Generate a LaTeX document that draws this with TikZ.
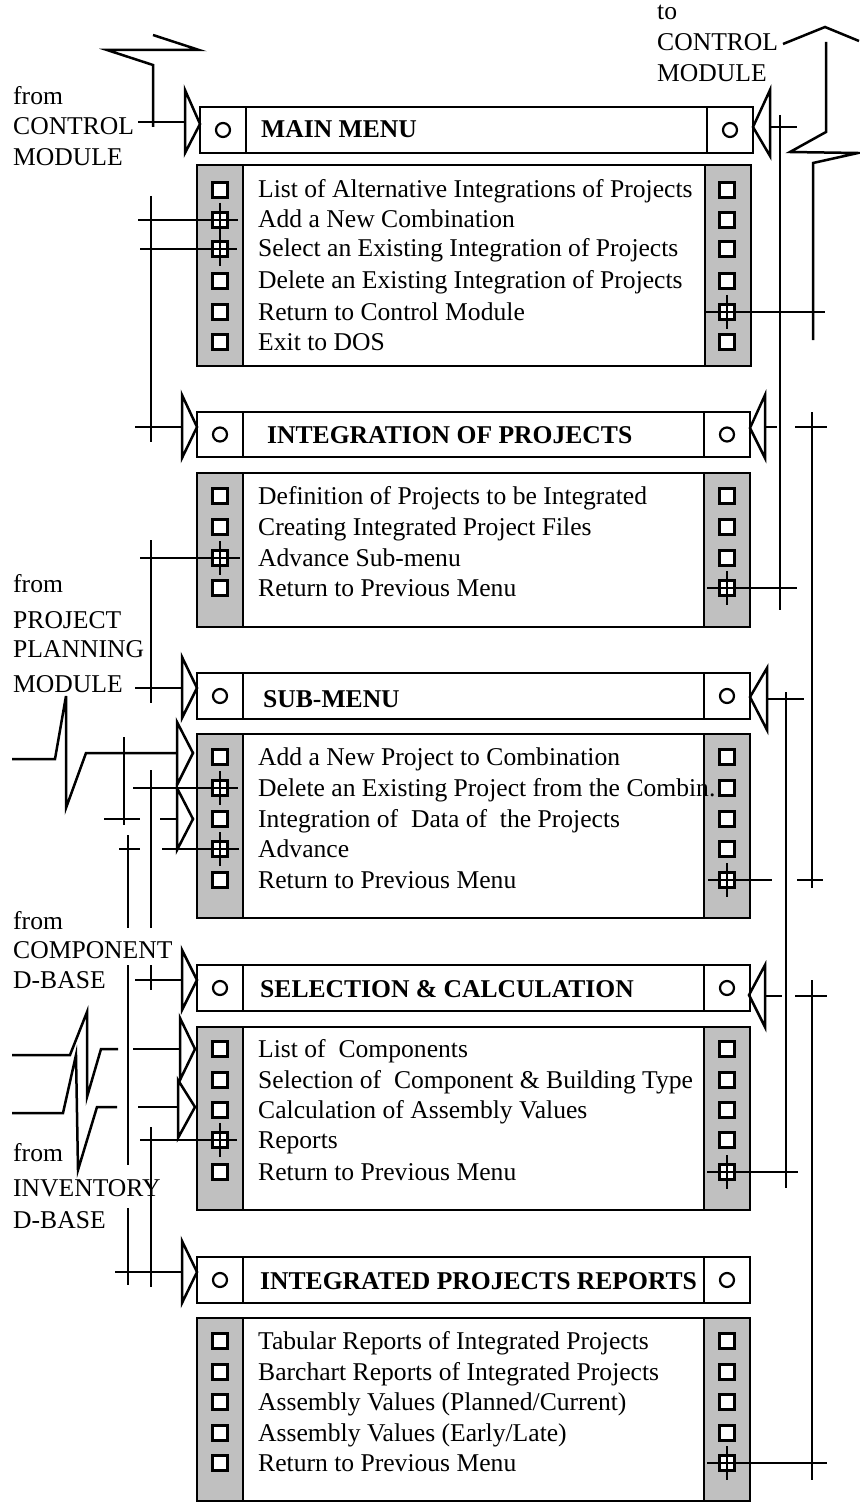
\documentclass[tikz,border=0pt]{standalone}
\usepackage{fontspec}
\setmainfont{Liberation Serif}
\definecolor{colgrey}{RGB}{192,192,192}
\tikzset{
  wire/.style={line width=2.5pt},
  frame/.style={draw, line width=2.6pt},
  sqbox/.style={draw, line width=2.2pt, minimum size=15pt, inner sep=0pt, fill=white},
  ring/.style={draw, circle, line width=2.2pt, minimum size=14pt, inner sep=0pt},
  item/.style={anchor=base west, inner sep=0pt, font=\fontsize{25.6}{30}\selectfont},
  ttl/.style={anchor=base west, inner sep=0pt, font=\fontsize{25.6}{30}\selectfont\bfseries},
  tri/.style={line width=2.5pt, line join=miter}
}
% header bar: name, x1, x2, y1, y2
\newcommand{\menuhdr}[5]{%
  \draw[frame, fill=white] (#2,#4) rectangle (#3,#5);
  \draw[frame] (#2+46,#4) -- (#2+46,#5);
  \draw[frame] (#3-46,#4) -- (#3-46,#5);
  \node[ring] (#1L) at (#2+23,{(#4+#5)/2}) {};
  \node[ring] (#1R) at (#3-23,{(#4+#5)/2}) {};
}
% body box: x1, x2, y1, y2
\newcommand{\menubody}[4]{%
  \fill[colgrey] (#1,#3) rectangle (#1+46,#4);
  \fill[colgrey] (#2-46,#3) rectangle (#2,#4);
  \draw[frame] (#1,#3) rectangle (#2,#4);
  \draw[frame] (#1+46,#3) -- (#1+46,#4);
  \draw[frame] (#2-46,#3) -- (#2-46,#4);
}
% item row: name, y, text
\newcommand{\itm}[3]{%
  \node[sqbox] (#1L) at (220,#2) {};
  \node[sqbox] (#1R) at (727,#2) {};
  \node[item] (#1T) at (258,#2+8) {#3};
}
\newcommand{\tickL}[1]{\draw[wire] (220,#1-17) -- (220,#1+17);}
\newcommand{\tickR}[1]{\draw[wire] (727,#1-17) -- (727,#1+17);}
% open triangle: back x, top y, bottom y, tip x, tip y
\newcommand{\otri}[5]{\draw[tri] (#1,#2) -- (#4,#5) -- (#1,#3) -- cycle;}
\begin{document}
\begin{tikzpicture}[x=1pt, y=-1pt]
\useasboundingbox (0,0) rectangle (859,1503);

% ---------------- boxes ----------------
\menuhdr{mh}{200}{753}{107}{153}
\node[ttl] (mhT) at (261,138) {MAIN MENU};
\menubody{197}{751}{165}{366}

\menuhdr{ih}{197}{750}{412}{457}
\node[ttl] (ihT) at (267,443) {INTEGRATION OF PROJECTS};
\menubody{197}{750}{473}{627}

\menuhdr{sh}{197}{750}{673}{719}
\node[ttl] (shT) at (263,707) {SUB-MENU};
\menubody{197}{750}{734}{918}

\menuhdr{eh}{197}{750}{965}{1011}
\node[ttl] (ehT) at (260,997) {SELECTION \& CALCULATION};
\menubody{197}{750}{1027}{1210}

\menuhdr{rh}{197}{750}{1257}{1303}
\node[ttl] (rhT) at (260,1289) {INTEGRATED PROJECTS REPORTS};
\menubody{197}{750}{1318}{1501}

% ---------------- items ----------------
\itm{m1}{190}{List of Alternative Integrations of Projects}
\itm{m2}{220}{Add a New Combination}
\itm{m3}{249}{Select an Existing Integration of Projects}
\itm{m4}{281}{Delete an Existing Integration of Projects}
\itm{m5}{312}{Return to Control Module}
\itm{m6}{342}{Exit to DOS}

\itm{i1}{496}{Definition of Projects to be Integrated}
\itm{i2}{527}{Creating Integrated Project Files}
\itm{i3}{558}{Advance Sub-menu}
\itm{i4}{588}{Return to Previous Menu}

\itm{s1}{757}{Add a New Project to Combination}
\itm{s2}{788}{Delete an Existing Project from the Combin.}
\itm{s3}{819}{Integration of\ \ Data of\ \ the Projects}
\itm{s4}{849}{Advance}
\itm{s5}{880}{Return to Previous Menu}

\itm{e1}{1049}{List of\ \ Components}
\itm{e2}{1080}{Selection of\ \ Component \& Building Type}
\itm{e3}{1110}{Calculation of Assembly Values}
\itm{e4}{1140}{Reports}
\itm{e5}{1172}{Return to Previous Menu}

\itm{r1}{1341}{Tabular Reports of Integrated Projects}
\itm{r2}{1372}{Barchart Reports of Integrated Projects}
\itm{r3}{1402}{Assembly Values (Planned/Current)}
\itm{r4}{1433}{Assembly Values (Early/Late)}
\itm{r5}{1463}{Return to Previous Menu}

% ---------------- labels ----------------
\node[item] (lc1) at (13,105) {from};
\node[item] (lc2) at (13,135) {CONTROL};
\node[item] (lc3) at (13,166) {MODULE};

\node[item] (rc1) at (657,20) {to};
\node[item] (rc2) at (657,51) {CONTROL};
\node[item] (rc3) at (657,82) {MODULE};

\node[item] (lp1) at (13,592) {from};
\node[item] (lp2) at (13,628) {PROJECT};
\node[item] (lp3) at (13,657) {PLANNING};
\node[item] (lp4) at (13,692) {MODULE};

\node[item] (lk1) at (13,929) {from};
\node[item] (lk2) at (13,958) {COMPONENT};
\node[item] (lk3) at (13,988) {D-BASE};

\node[item] (lv1) at (13,1161) {from};
\node[item] (lv2) at (13,1196) {INVENTORY};
\node[item] (lv3) at (13,1228) {D-BASE};

% ---------------- arrowheads (open triangles) ----------------
\otri{185}{90}{153}{200}{124}
\otri{770}{90}{156}{753}{127}
\otri{182}{395}{458}{197}{427}
\otri{765}{395}{458}{750}{428}
\otri{182}{657}{718}{197}{688}
\otri{767}{668}{730}{750}{697}
\otri{177}{722}{785}{193}{753}
\otri{177}{788}{850}{193}{819}
\otri{182}{950}{1010}{197}{980}
\otri{765}{965}{1027}{749}{995}
\otri{180}{1018}{1080}{195}{1049}
\otri{178}{1080}{1138}{195}{1107}
\otri{182}{1241}{1303}{197}{1272}

% ---------------- left wiring ----------------
% from control module
\draw[wire] (138,122) -- (185,122);
\draw[wire, line join=miter] (153,127) -- (153,65) -- (107,50) -- (199,50) -- (153,35);
% main menu -> integration
\draw[wire] (151,196) -- (151,442);
\draw[wire] (138,220) -- (238,220);
\draw[wire] (140,249) -- (237,249);
\draw[wire] (135,427) -- (182,427);
\tickL{220} \tickL{249}
% integration -> sub-menu
\draw[wire] (151,540) -- (151,703);
\draw[wire] (140,558) -- (240,558);
\draw[wire] (135,688) -- (182,688);
\tickL{558}
% sub-menu body inputs
\draw[wire, line join=miter] (12,759) -- (55,759) -- (66,696) -- (66,808) -- (86,753) -- (177,753);
\draw[wire] (124,737) -- (124,825);
\draw[wire] (104,819) -- (140,819);
\draw[wire] (160,819) -- (177,819);
\draw[wire] (151,770) -- (151,928);
\draw[wire] (133,788) -- (238,788);
\draw[wire] (128,835) -- (128,928);
\draw[wire] (119,849) -- (140,849);
\draw[wire] (162,849) -- (239,849);
\tickL{788} \tickL{849}
% selection header
\draw[wire] (151,965) -- (151,990);
\draw[wire] (135,980) -- (182,980);
\draw[wire] (128,965) -- (128,1165);
% selection body inputs
\draw[wire, line join=miter] (12,1055) -- (70,1055) -- (87,1012) -- (87,1097) -- (101,1049) -- (118,1049);
\draw[wire] (133,1049) -- (180,1049);
\draw[wire, line join=miter] (12,1113) -- (63,1113) -- (76,1055) -- (78,1170) -- (97,1107) -- (117,1107);
\draw[wire] (138,1107) -- (178,1107);
\draw[wire] (151,1127) -- (151,1287);
\draw[wire] (140,1140) -- (237,1140);
\tickL{1140}
% reports header
\draw[wire] (128,1208) -- (128,1285);
\draw[wire] (115,1272) -- (182,1272);

% ---------------- right wiring ----------------
% to control module
\draw[wire, line join=miter] (813,340) -- (813,163) -- (858,153) -- (790,152) -- (826,132) -- (826,42);
\draw[wire, line join=miter] (783,44) -- (825,27) -- (859,41);
\draw[wire] (704,312) -- (825,312);
\tickR{312}
% main menu header right
\draw[wire] (770,127) -- (797,127);
\draw[wire] (780,115) -- (780,610);
\draw[wire] (707,588) -- (797,588);
\tickR{588}
% integration header right
\draw[wire] (765,427) -- (777,427);
\draw[wire] (795,427) -- (827,427);
\draw[wire] (812,412) -- (812,888);
\draw[wire] (708,880) -- (772,880);
\draw[wire] (797,880) -- (823,880);
\tickR{880}
% sub-menu header right
\draw[wire] (767,699) -- (804,699);
\draw[wire] (786,692) -- (786,1188);
\draw[wire] (707,1172) -- (798,1172);
\tickR{1172}
% selection header right
\draw[wire] (765,996) -- (782,996);
\draw[wire] (795,996) -- (827,996);
\draw[wire] (812,980) -- (812,1480);
\draw[wire] (707,1463) -- (827,1463);
\tickR{1463}
\end{tikzpicture}
\end{document}
